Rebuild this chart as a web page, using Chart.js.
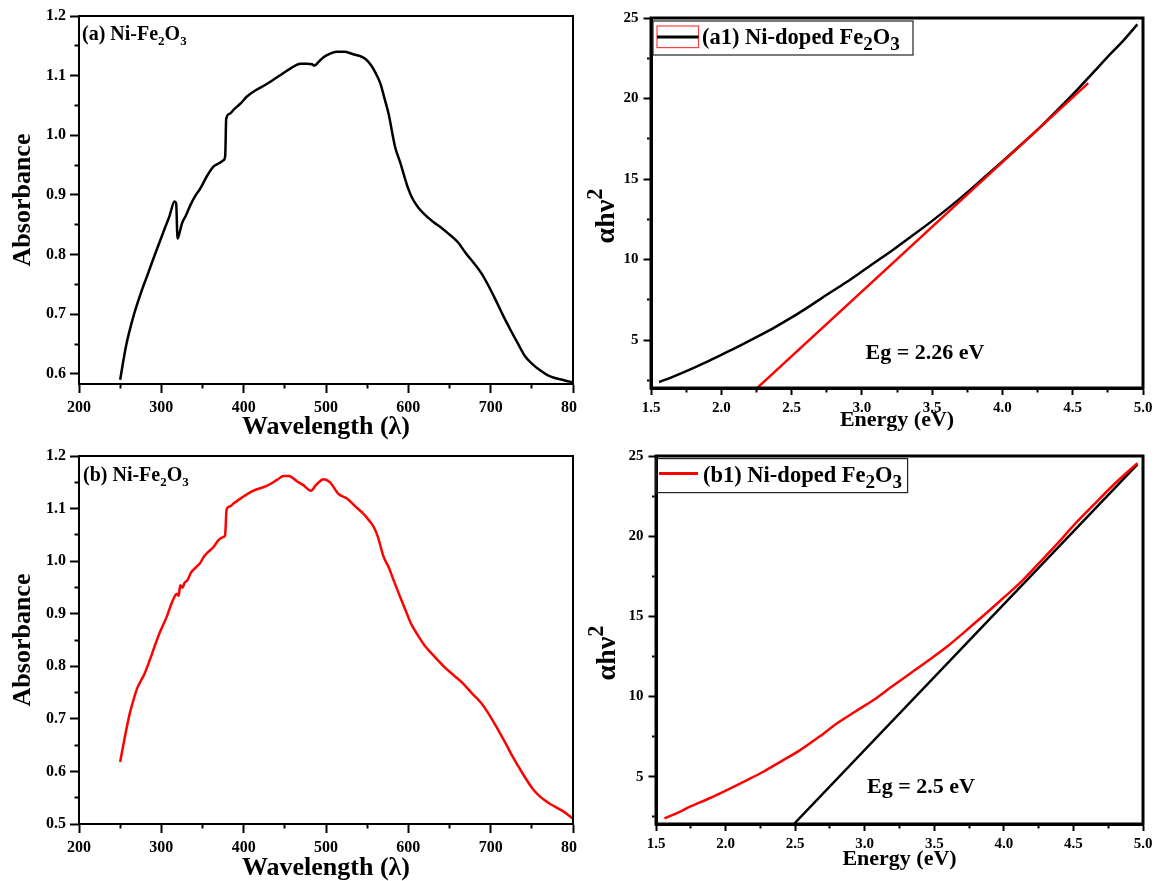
<!DOCTYPE html>
<html>
<head>
<meta charset="utf-8">
<script src="https://cdn.jsdelivr.net/npm/chart.js@4.4.1/dist/chart.umd.min.js"></script>
<style>
  body { margin: 0; background: #fff; }
  .wrap { position: relative; width: 1155px; height: 881px; background: #fff; }
  canvas { position: absolute; }
</style>
</head>
<body>
<div class="wrap">
  <canvas id="chartA" width="577" height="440" style="left:0;top:0"></canvas>
  <canvas id="chartA1" width="575" height="440" style="left:580px;top:0"></canvas>
  <canvas id="chartB" width="577" height="441" style="left:0;top:440px"></canvas>
  <canvas id="chartB1" width="575" height="441" style="left:580px;top:440px"></canvas>
</div>
<script>
// (a) absorbance, black curve
const waveA = [250, 257, 266, 275, 284, 293, 302, 310, 316, 318, 319.7, 322, 325, 330, 336, 342, 347, 356,
  363, 370, 375.5, 377.6, 378.8, 383, 388, 396, 404, 414, 428, 436, 448, 458, 468.7, 477, 483, 486, 491,
  497, 505, 513, 522, 533, 541, 548, 555, 560, 566, 571, 576, 584, 590, 599, 605, 612, 620, 630, 640,
  648, 660, 670, 680, 689, 698, 706, 715, 724, 733, 742, 751, 760, 769, 778, 787, 796, 800];
const absA = [0.590, 0.646, 0.696, 0.735, 0.769, 0.803, 0.836, 0.865, 0.889, 0.886, 0.827, 0.836, 0.852,
  0.866, 0.885, 0.900, 0.910, 0.933, 0.947, 0.953, 0.958, 0.966, 1.028, 1.036, 1.043, 1.053, 1.065, 1.075,
  1.086, 1.093, 1.104, 1.113, 1.120, 1.120, 1.119, 1.117, 1.123, 1.131, 1.137, 1.140, 1.140, 1.136, 1.133,
  1.128, 1.117, 1.105, 1.087, 1.062, 1.036, 0.980, 0.955, 0.914, 0.894, 0.879, 0.867, 0.855, 0.845, 0.836,
  0.821, 0.802, 0.785, 0.768, 0.746, 0.724, 0.698, 0.674, 0.651, 0.629, 0.616, 0.606, 0.598, 0.593, 0.590,
  0.587, 0.586];

// (b) absorbance, red curve
const waveB = [250, 255, 261.6, 266, 270.6, 275, 279.6, 286, 293, 298.6, 306.5, 312, 316.9, 319, 321, 323,
  326, 328, 331.8, 336, 342.5, 347, 351.5, 356, 363.4, 369.4, 375.6, 377.5, 379.2, 383, 388, 396, 412, 428,
  441, 448.4, 455, 464.6, 472, 481.7, 488, 497, 505, 515, 525.4, 535, 545.6, 552, 558, 563, 570, 576, 583,
  590, 597, 603, 612, 621, 632, 643.6, 655, 666, 677, 688.5, 697, 706.5, 713, 720, 726, 733.5, 742, 751.5,
  760, 769.5, 778, 787.4, 795, 800];
const absB = [0.618, 0.660, 0.710, 0.735, 0.758, 0.772, 0.786, 0.812, 0.843, 0.866, 0.894, 0.918, 0.935,
  0.938, 0.934, 0.954, 0.950, 0.958, 0.964, 0.978, 0.989, 0.996, 1.008, 1.016, 1.027, 1.040, 1.046, 1.050,
  1.098, 1.104, 1.110, 1.119, 1.134, 1.143, 1.155, 1.162, 1.162, 1.152, 1.145, 1.134, 1.145, 1.156, 1.150,
  1.128, 1.119, 1.105, 1.090, 1.078, 1.065, 1.046, 1.008, 0.989, 0.960, 0.932, 0.905, 0.882, 0.858, 0.837,
  0.818, 0.799, 0.783, 0.768, 0.749, 0.730, 0.711, 0.686, 0.668, 0.648, 0.630, 0.610, 0.588, 0.566, 0.552,
  0.541, 0.533, 0.525, 0.516, 0.510];

// (a1) Tauc plot, black curve + red linear fit
const energyA1 = [1.557, 1.65, 1.78, 1.90, 2.01, 2.13, 2.25, 2.38, 2.51, 2.64, 2.77, 2.90, 3.00, 3.12, 3.24,
  3.37, 3.50, 3.63, 3.76, 3.89, 4.02, 4.15, 4.28, 4.41, 4.54, 4.65, 4.75, 4.86, 4.96];
const taucA1 = [2.39, 2.70, 3.18, 3.66, 4.13, 4.64, 5.18, 5.79, 6.45, 7.17, 7.92, 8.65, 9.25, 9.98, 10.72,
  11.55, 12.40, 13.30, 14.25, 15.25, 16.25, 17.27, 18.32, 19.45, 20.62, 21.65, 22.60, 23.60, 24.60];
const fitA1E = [2.25, 4.61];
const fitA1Y = [1.98, 20.96];

// (b1) Tauc plot, red curve + black linear fit
const energyB1 = [1.561, 1.65, 1.745, 1.88, 2.009, 2.14, 2.272, 2.40, 2.536, 2.67, 2.80, 2.93, 3.063, 3.19,
  3.327, 3.46, 3.59, 3.72, 3.854, 3.99, 4.118, 4.25, 4.381, 4.51, 4.645, 4.80, 4.96];
const taucB1 = [2.40, 2.73, 3.13, 3.64, 4.17, 4.73, 5.31, 5.96, 6.66, 7.47, 8.32, 9.05, 9.78, 10.59, 11.44,
  12.26, 13.10, 14.05, 15.05, 16.10, 17.10, 18.30, 19.50, 20.75, 21.95, 23.30, 24.56];
const fitB1E = [2.491, 4.96];
const fitB1Y = [2.05, 24.48];

// tick values
const waveTicks = [200, 300, 400, 500, 600, 700, 800];
const waveMinor = [250, 350, 450, 550, 650, 750];
const absTicksA = [0.6, 0.7, 0.8, 0.9, 1.0, 1.1, 1.2];
const absMinorA = [0.65, 0.75, 0.85, 0.95, 1.05, 1.15];
const absTicksB = [0.5, 0.6, 0.7, 0.8, 0.9, 1.0, 1.1, 1.2];
const absMinorB = [0.55, 0.65, 0.75, 0.85, 0.95, 1.05, 1.15];
const energyTicks = [1.5, 2.0, 2.5, 3.0, 3.5, 4.0, 4.5, 5.0];
const energyMinor = [1.75, 2.25, 2.75, 3.25, 3.75, 4.25, 4.75];
const taucTicks = [5, 10, 15, 20, 25];
const taucMinor = [2.5, 7.5, 12.5, 17.5, 22.5];

const serif = "'Liberation Serif', 'Times New Roman', serif";
Chart.defaults.font.family = serif;
Chart.defaults.font.weight = 'bold';
Chart.defaults.color = '#000';

const pts = (xs, ys) => xs.map((x, i) => ({ x: x, y: ys[i] }));

// draw text pieces one after another: [text, size factor, shift (em, + is down)]
function rich(ctx, x, y, parts, size) {
  parts.forEach(p => {
    ctx.font = 'bold ' + (size * p[1]) + 'px ' + serif;
    ctx.fillText(p[0], x, y + p[2] * size);
    x += ctx.measureText(p[0]).width;
  });
}
function richWidth(ctx, parts, size) {
  let w = 0;
  parts.forEach(p => {
    ctx.font = 'bold ' + (size * p[1]) + 'px ' + serif;
    w += ctx.measureText(p[0]).width;
  });
  return w;
}

const decor = {
  id: 'decor',
  afterDraw(chart, args, o) {
    const ctx = chart.ctx, a = chart.chartArea;
    ctx.save();
    ctx.strokeStyle = '#000';
    ctx.lineWidth = o.frame;
    ctx.strokeRect(a.left, a.top, a.right - a.left, a.bottom - a.top);
    ctx.fillStyle = '#000';
    ctx.textAlign = 'left';
    ctx.textBaseline = 'alphabetic';
    if (o.label) rich(ctx, a.left + o.label.dx, a.top + o.label.dy, o.label.parts, o.label.size);
    if (o.legend) {
      const L = o.legend;
      ctx.lineWidth = 1.2;
      ctx.strokeStyle = '#222';
      ctx.strokeRect(a.left + L.box[0], a.top + L.box[1], L.box[2], L.box[3]);
      if (L.rect) {
        ctx.strokeStyle = '#ff4040';
        ctx.strokeRect(a.left + L.rect[0], a.top + L.rect[1], L.rect[2], L.rect[3]);
      }
      ctx.strokeStyle = L.color;
      ctx.lineWidth = 3;
      ctx.beginPath();
      ctx.moveTo(a.left + L.line[0], a.top + L.line[2]);
      ctx.lineTo(a.left + L.line[1], a.top + L.line[2]);
      ctx.stroke();
      rich(ctx, a.left + L.tx, a.top + L.ty, L.parts, L.size);
    }
    if (o.eg) {
      ctx.font = 'bold ' + o.eg.size + 'px ' + serif;
      ctx.fillText(o.eg.text, a.left + o.eg.dx, a.top + o.eg.dy);
    }
    if (o.yTitle) {
      const T = o.yTitle;
      const w = richWidth(ctx, T.parts, T.size);
      ctx.translate(T.x, T.cy);
      ctx.rotate(-Math.PI / 2);
      rich(ctx, -w / 2, 0, T.parts, T.size);
    }
    ctx.restore();
  }
};

function axis(c) {
  const all = c.major.concat(c.minor).sort((p, q) => p - q);
  const horiz = c.pos === 'bottom';
  const half = c.border / 2;
  return {
    type: 'linear',
    position: c.pos,
    min: c.min,
    max: c.max,
    afterBuildTicks: s => { s.ticks = all.map(v => ({ value: v })); },
    afterFit: s => {
      if (horiz) s.height = c.size; else s.width = c.size;
      s.paddingLeft = 0; s.paddingRight = 0; s.paddingTop = 0; s.paddingBottom = 0;
    },
    border: { color: '#000', width: c.border },
    grid: {
      drawOnChartArea: false,
      tickLength: c.tick,
      tickWidth: 2,
      tickColor: '#000',
      tickBorderDash: ctx => (!ctx.tick || c.major.includes(ctx.tick.value)) ? [] :
        (horiz ? [c.minorTick, 100] : [0, c.tick - half - c.minorTick, c.minorTick, 100])
    },
    ticks: {
      autoSkip: false,
      maxRotation: 0,
      padding: c.pad,
      color: '#000',
      font: { size: c.font, weight: 'bold' },
      callback: v => c.major.includes(v) ? c.fmt(v) : ''
    },
    title: c.title ? {
      display: true,
      text: c.title.text,
      color: '#000',
      font: { size: c.title.size, weight: 'bold', lineHeight: 1 },
      padding: { top: c.title.top || 0, bottom: c.title.bottom || 0 }
    } : { display: false }
  };
}

function lineSet(data, color, smooth) {
  return {
    data: data,
    borderColor: color,
    borderWidth: 2.5,
    pointRadius: 0,
    fill: false,
    cubicInterpolationMode: smooth ? 'monotone' : 'default',
    tension: 0
  };
}

function makeChart(id, datasets, xs, ys, pad, deco) {
  return new Chart(document.getElementById(id), {
    type: 'line',
    data: { datasets: datasets },
    options: {
      responsive: false,
      animation: false,
      devicePixelRatio: 1,
      layout: { padding: pad },
      scales: { x: axis(xs), y: axis(ys) },
      plugins: { legend: { display: false }, tooltip: { enabled: false }, decor: deco }
    },
    plugins: [decor]
  });
}

const fix1 = v => v.toFixed(1);
const plain = v => String(v);
const feLabel = t => [[t, 1, 0], ['2', 0.65, 0.25], ['O', 1, 0], ['3', 0.65, 0.25]];
const feLegend = t => [[t, 1, 0], ['2', 0.85, 0.28], ['O', 1, 0], ['3', 0.85, 0.28]];
const yTau = [['\u03B1h\u03BD', 1, 0], ['2', 0.8, -0.42]];

makeChart('chartA', [lineSet(pts(waveA, absA), '#000', true)],
  { pos: 'bottom', min: 200, max: 800, major: waveTicks, minor: waveMinor, size: 56, border: 2,
    tick: 9, minorTick: 3.5, pad: 5, font: 16, fmt: plain,
    title: { text: 'Wavelength (\u03BB)', size: 26, bottom: 0 } },
  { pos: 'left', min: 0.583, max: 1.2, major: absTicksA, minor: absMinorA, size: 79, border: 2,
    tick: 9, minorTick: 3.5, pad: 4, font: 16, fmt: fix1,
    title: { text: 'Absorbance', size: 26, top: 10 } },
  { top: 16, right: 4, left: 0, bottom: 0 },
  { frame: 2, label: { parts: feLabel('(a) Ni-Fe'), dx: 3, dy: 24, size: 20 } });

makeChart('chartB', [lineSet(pts(waveB, absB), '#ff0000', true)],
  { pos: 'bottom', min: 200, max: 800, major: waveTicks, minor: waveMinor, size: 57, border: 2,
    tick: 9, minorTick: 3.5, pad: 5, font: 16, fmt: plain,
    title: { text: 'Wavelength (\u03BB)', size: 26, bottom: 0 } },
  { pos: 'left', min: 0.5, max: 1.2, major: absTicksB, minor: absMinorB, size: 79, border: 2,
    tick: 9, minorTick: 3.5, pad: 4, font: 16, fmt: fix1,
    title: { text: 'Absorbance', size: 26, top: 10 } },
  { top: 16, right: 4, left: 0, bottom: 0 },
  { frame: 2, label: { parts: feLabel('(b) Ni-Fe'), dx: 4, dy: 24.5, size: 20 } });

makeChart('chartA1', [
    lineSet(pts(fitA1E, fitA1Y), '#ff0000', false),
    lineSet(pts(energyA1, taucA1), '#000', true)
  ],
  { pos: 'bottom', min: 1.5, max: 5.0, major: energyTicks, minor: energyMinor, size: 52, border: 3,
    tick: 7, minorTick: 2.5, pad: 4, font: 15, fmt: fix1,
    title: { text: 'Energy (eV)', size: 22, bottom: 9 } },
  { pos: 'left', min: 2.02, max: 25, major: taucTicks, minor: taucMinor, size: 71, border: 3,
    tick: 7.5, minorTick: 2.5, pad: 5, font: 15, fmt: plain },
  { top: 18, right: 12, left: 0, bottom: 0 },
  { frame: 3,
    legend: { box: [2, 3, 260, 34], rect: [6, 8, 41.5, 21.6], line: [6, 47.5, 19], color: '#000',
      tx: 51, ty: 25.6, size: 22.5, parts: feLegend('(a1) Ni-doped Fe') },
    eg: { text: 'Eg = 2.26 eV', dx: 214.5, dy: 340.6, size: 22 },
    yTitle: { x: 34, cy: 216, size: 28, parts: yTau } });

makeChart('chartB1', [
    lineSet(pts(energyB1, taucB1), '#ff0000', true),
    lineSet(pts(fitB1E, fitB1Y), '#000', false)
  ],
  { pos: 'bottom', min: 1.5, max: 5.0, major: energyTicks, minor: energyMinor, size: 57, border: 3,
    tick: 7, minorTick: 2.5, pad: 4, font: 15, fmt: fix1,
    title: { text: 'Energy (eV)', size: 22, bottom: 11 } },
  { pos: 'left', min: 2.05, max: 25, major: taucTicks, minor: taucMinor, size: 76, border: 3,
    tick: 7.5, minorTick: 2.5, pad: 5, font: 15, fmt: plain },
  { top: 16, right: 12, left: 0, bottom: 0 },
  { frame: 3,
    legend: { box: [0, 2.6, 251.6, 34], line: [3, 42, 17.6], color: '#ff0000',
      tx: 47, ty: 26, size: 22.5, parts: feLegend('(b1) Ni-doped Fe') },
    eg: { text: 'Eg = 2.5 eV', dx: 211, dy: 336.6, size: 22 },
    yTitle: { x: 35, cy: 213, size: 28, parts: yTau } });
</script>
</body>
</html>
